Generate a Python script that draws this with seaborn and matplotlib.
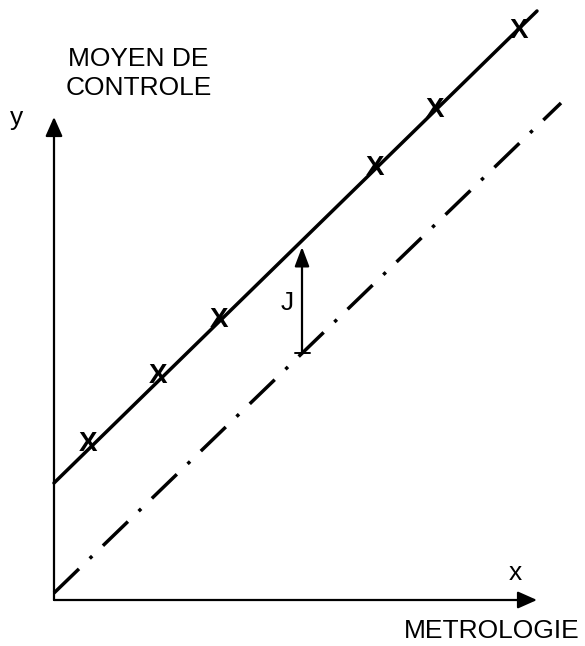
import matplotlib
matplotlib.use("Agg")
import matplotlib.pyplot as plt
import seaborn as sns

# Diagram coordinates: origin at the corner of the two axes, 1 unit ~ 1 px
AXIS_END = 483

# measured values (the "X" points and the two parallel lines)
meas_x = [34, 104, 165, 321, 381, 465]
meas_y = [156, 224, 280, 432, 490, 569]

fit_x = [0, 483]
fit_y = [117, 589]

ref_x = [0, 507]
ref_y = [7, 497]

# offset J between the two lines
gap_x = 248
gap_y = [247, 353]

sns.set_style("white")
plt.rcParams["font.family"] = ["Liberation Sans", "DejaVu Sans"]
plt.rcParams["text.color"] = "black"

fig = plt.figure(figsize=(5.85, 6.46), dpi=100)
ax = fig.add_axes([0, 0, 1, 1])
ax.set_xlim(-54, 531)
ax.set_ylim(-46, 600)
ax.axis("off")

arrow = dict(arrowstyle="-|>,head_length=0.45,head_width=0.2",
             mutation_scale=26, lw=1.6, color="black",
             shrinkA=0, shrinkB=0)

# axes with arrowheads
ax.annotate("", xy=(0, AXIS_END), xytext=(0, 0), arrowprops=arrow)
ax.annotate("", xy=(AXIS_END, 0), xytext=(0, 0), arrowprops=arrow)

# solid fitted line and dash-dot reference line
sns.lineplot(x=fit_x, y=fit_y, ax=ax, color="black", linewidth=2.5)
sns.lineplot(x=ref_x, y=ref_y, ax=ax, color="black", linewidth=2.5,
             linestyle=(0, (10, 4.3, 1, 4.3)), dash_capstyle="butt")

# measurement points drawn as "X"
for px, py in zip(meas_x, meas_y):
    ax.text(px, py, "X", fontsize=20, ha="center", va="center",
            color="black", fontweight="bold")

# J arrow with a small bar at its base
ax.annotate("", xy=(gap_x, gap_y[1]), xytext=(gap_x, gap_y[0]),
            arrowprops=dict(arrow, arrowstyle="-|>,head_length=0.45,head_width=0.17"))
ax.plot([gap_x - 7, gap_x + 8], [gap_y[0], gap_y[0]], color="black", lw=1.4)
ax.text(233, 297, "J", fontsize=19, ha="center", va="center", color="black")

# labels
ax.text(84.5, 534, "MOYEN DE", fontsize=19, ha="center", va="baseline")
ax.text(84.5, 505, "CONTROLE", fontsize=19, ha="center", va="baseline")
ax.text(-37, 475, "y", fontsize=19, ha="center", va="baseline")
ax.text(461, 20, "x", fontsize=19, ha="center", va="baseline")
ax.text(438, -38, "METROLOGIE", fontsize=19, ha="center", va="baseline")

fig.savefig("out.png", dpi=100)
